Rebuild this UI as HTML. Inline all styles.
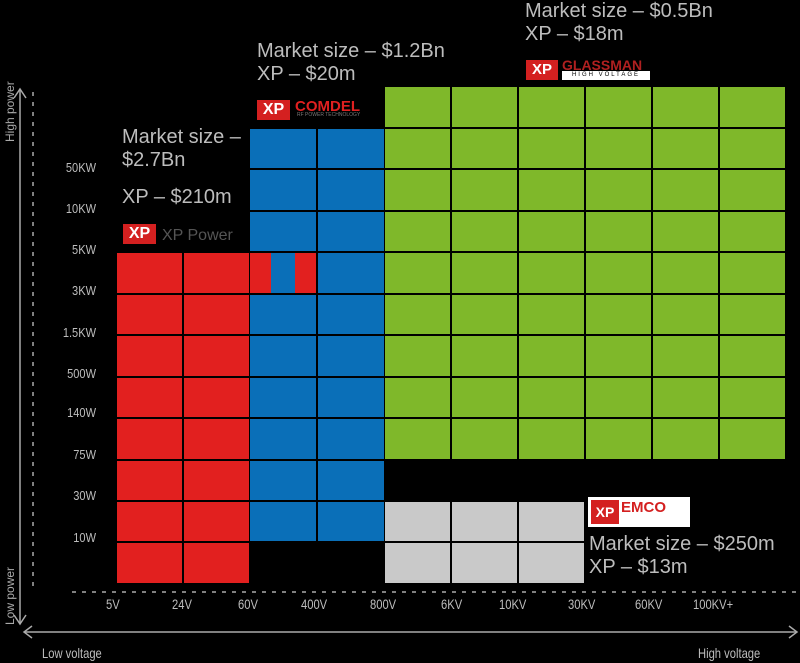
<!DOCTYPE html><html><head><style>
body{margin:0;width:800px;height:663px;background:#000;overflow:hidden;position:relative;font-family:"Liberation Sans",sans-serif;color:#bdbdbd}
.c{position:absolute}
.t{position:absolute;font-size:20px;line-height:23px;color:#bdbdbd;white-space:nowrap}
.y{position:absolute;font-size:13px;color:#bdbdbd;width:60px;text-align:right;left:36px;transform:scaleX(.85);transform-origin:right}
.x{position:absolute;font-size:14px;color:#bdbdbd;top:596px;transform:scaleX(.8);transform-origin:left}
</style></head><body>
<svg class="c" style="left:0;top:0" width="800" height="663">
<line x1="33" y1="92" x2="33" y2="592" stroke="#aaa" stroke-width="1.5" stroke-dasharray="4,6"/>
<line x1="72" y1="592" x2="800" y2="592" stroke="#aaa" stroke-width="1.5" stroke-dasharray="4,6"/>
<line x1="20" y1="90" x2="20" y2="624" stroke="#aaa" stroke-width="1.5"/>
<polyline points="14,98 20,89 26,98" fill="none" stroke="#aaa" stroke-width="1.5"/>
<polyline points="14,615 20,624 26,615" fill="none" stroke="#aaa" stroke-width="1.5"/>
<line x1="24" y1="632" x2="797" y2="632" stroke="#aaa" stroke-width="1.5"/>
<polyline points="32,626 24,632 32,638" fill="none" stroke="#aaa" stroke-width="1.5"/>
<polyline points="789,626 797,632 789,638" fill="none" stroke="#aaa" stroke-width="1.5"/>
<text x="14" y="142" transform="rotate(-90 14 142)" font-size="12" fill="#aaa" font-family="Liberation Sans">High power</text>
<text x="14" y="625" transform="rotate(-90 14 625)" font-size="12" fill="#aaa" font-family="Liberation Sans">Low power</text>
</svg>
<div id="cells"></div>
<script>
var h='',rows=[87,129,170,212,253,295,336,378,419,461,502,543,585];
function blk(x0,w,n,r0,r1,col){for(var i=0;i<n;i++)for(var r=r0;r<r1;r++){h+='<div class="c" style="left:'+(x0+i*(w+2))+'px;top:'+rows[r]+'px;width:'+w+'px;height:'+(rows[r+1]-rows[r]-2)+'px;background:'+col+'"></div>';}}
blk(117,65,2,4,12,'#e2201f');
blk(250,66,2,1,11,'#0a6fb8');
blk(385,65,6,0,9,'#7fb82a');
blk(385,65,3,10,12,'#c9c9c9');
h+='<div class="c" style="left:250px;top:253px;width:21px;height:40px;background:#e2201f"></div><div class="c" style="left:295px;top:253px;width:21px;height:40px;background:#e2201f"></div>';
document.getElementById('cells').innerHTML=h;
</script>
<div class="t" style="left:122px;top:126px">Market size –<br>$2.7Bn</div>
<div class="t" style="left:122px;top:186px">XP – $210m</div>
<div class="c" style="left:123px;top:224px;width:33px;height:20px;background:#d42020;color:#fff;font-weight:bold;font-size:16px;line-height:20px;text-align:center">XP</div>
<div class="t" style="left:162px;top:226px;font-size:16px;line-height:20px;color:#555">XP Power</div>
<div class="t" style="left:257px;top:40px">Market size – $1.2Bn<br>XP – $20m</div>
<div class="c" style="left:257px;top:100px;width:33px;height:20px;background:#d42020;color:#fff;font-weight:bold;font-size:16px;line-height:20px;text-align:center">XP</div>
<div class="t" style="left:295px;top:98px;font-size:15px;line-height:18px;color:#e02020;font-weight:bold">COMDEL</div>
<div class="t" style="left:297px;top:112px;font-size:5px;line-height:6px;color:#777">RF POWER TECHNOLOGY</div>
<div class="t" style="left:525px;top:0px">Market size – $0.5Bn<br>XP – $18m</div>
<div class="c" style="left:526px;top:60px;width:32px;height:20px;background:#d42020;color:#fff;font-weight:bold;font-size:15px;line-height:20px;text-align:center">XP</div>
<div class="t" style="left:562px;top:58px;font-size:14px;line-height:14px;color:#b02020;font-weight:bold">GLASSMAN</div>
<div class="c" style="left:562px;top:71px;width:88px;height:9px;background:#fff;color:#000;font-size:6px;line-height:9px;letter-spacing:2px;text-align:center">HIGH VOLTAGE</div>
<div class="c" style="left:588px;top:497px;width:102px;height:30px;background:#fff"></div>
<div class="c" style="left:591px;top:500px;width:28px;height:24px;background:#d42020;color:#fff;font-weight:bold;font-size:14px;line-height:24px;text-align:center">XP</div>
<div class="t" style="left:621px;top:500px;font-size:15px;line-height:16px;color:#d42020;font-weight:bold">EMCO</div>
<div class="t" style="left:589px;top:533px">Market size – $250m<br>XP – $13m</div>
<div class="y" style="top:160px">50KW</div><div class="y" style="top:201px">10KW</div><div class="y" style="top:242px">5KW</div><div class="y" style="top:283px">3KW</div><div class="y" style="top:325px">1.5KW</div><div class="y" style="top:366px">500W</div><div class="y" style="top:405px">140W</div><div class="y" style="top:447px">75W</div><div class="y" style="top:488px">30W</div><div class="y" style="top:530px">10W</div>
<div class="x" style="left:106px">5V</div><div class="x" style="left:172px">24V</div><div class="x" style="left:238px">60V</div><div class="x" style="left:301px">400V</div><div class="x" style="left:370px">800V</div><div class="x" style="left:441px">6KV</div><div class="x" style="left:499px">10KV</div><div class="x" style="left:568px">30KV</div><div class="x" style="left:635px">60KV</div><div class="x" style="left:693px">100KV+</div>
<div class="x" style="left:42px;top:645px">Low voltage</div>
<div class="x" style="left:698px;top:645px">High voltage</div>
</body></html>
